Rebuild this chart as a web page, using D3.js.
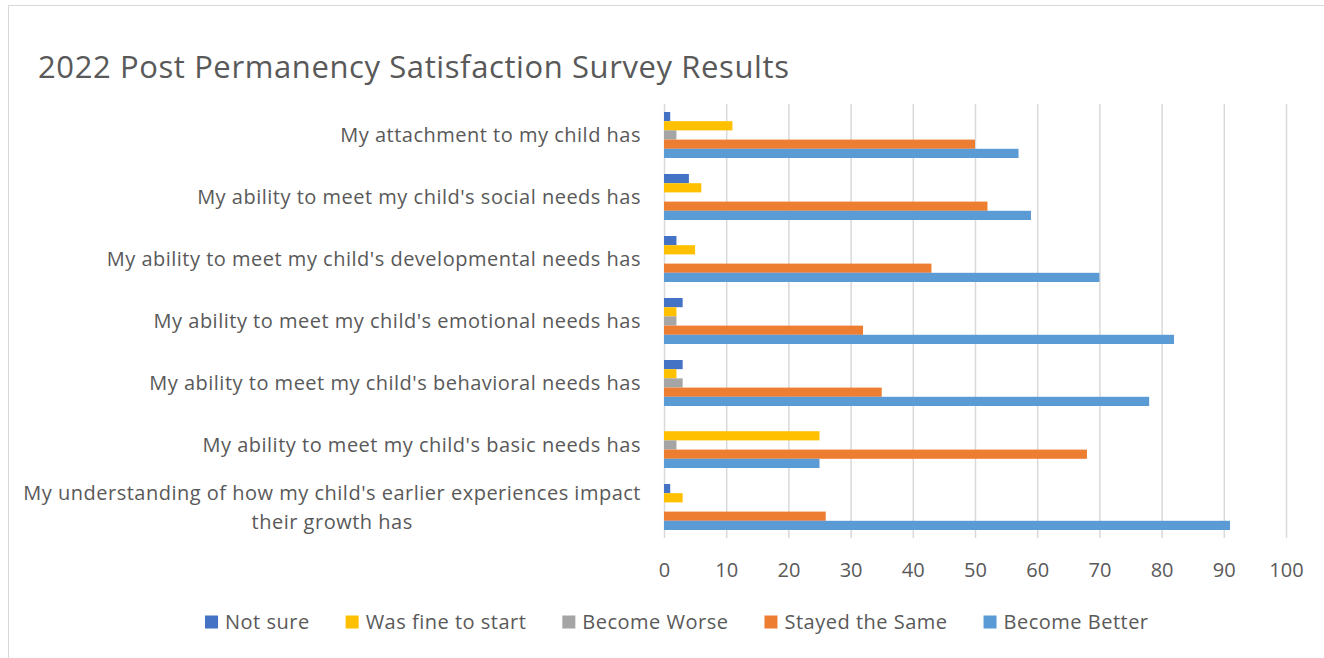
<!DOCTYPE html>
<html>
<head>
<meta charset="utf-8">
<script src="https://cdn.jsdelivr.net/npm/d3@7"></script>
<style>
  body { margin: 0; background: #fff; }
  svg { display: block; font-family: "Open Sans", sans-serif; }
</style>
</head>
<body>
<div class="chart"></div>
<script>
// categories listed top to bottom as they appear, '|' marks a wrapped line
var categories = [
  "My attachment to my child has",
  "My ability to meet my child's social needs has",
  "My ability to meet my child's developmental needs has",
  "My ability to meet my child's emotional needs has",
  "My ability to meet my child's behavioral needs has",
  "My ability to meet my child's basic needs has",
  "My understanding of how my child's earlier experiences impact|their growth has"
]

var seriesNames = ["Not sure", "Was fine to start", "Become Worse", "Stayed the Same", "Become Better"]
var seriesColors = ["#4472C4", "#FFC000", "#A5A5A5", "#ED7D31", "#5B9BD5"]

var notSure      = [1, 4, 2, 3, 3, 0, 1]
var fineToStart  = [11, 6, 5, 2, 2, 25, 3]
var becomeWorse  = [2, 0, 0, 2, 3, 2, 0]
var stayedSame   = [50, 52, 43, 32, 35, 68, 26]
var becomeBetter = [57, 59, 70, 82, 78, 25, 91]

var xTicks = [0, 10, 20, 30, 40, 50, 60, 70, 80, 90, 100]

var seriesValues = [notSure, fineToStart, becomeWorse, stayedSame, becomeBetter]

var W = 1324, H = 658
var plot = { left: 664, right: 1286, top: 104, bottom: 538 }
var textColor = '#595959'

var svg = d3.select('.chart')
  .append('svg')
    .attr('width', W)
    .attr('height', H)

// chart frame (only top and left edges fall inside the picture)
svg.append('rect')
  .attr('x', 8.5).attr('y', 5.5)
  .attr('width', 1330).attr('height', 670)
  .attr('fill', '#fff')
  .attr('stroke', '#d9d9d9')
  .attr('stroke-width', 1)

svg.append('text')
  .attr('x', 38)
  .attr('y', 78)
  .attr('fill', textColor)
  .style('font-size', '31px')
  .style('letter-spacing', '0.6px')
  .text('2022 Post Permanency Satisfaction Survey Results')

var x = d3.scaleLinear().domain([0, 100]).range([plot.left, plot.right])

var y0 = d3.scaleBand()
  .domain(categories)
  .range([plot.top, plot.bottom])
  .paddingInner(0.258)
  .paddingOuter(0.129)

var y1 = d3.scaleBand()
  .domain(seriesNames)
  .range([0, y0.bandwidth()])

// gridlines + tick labels from the axis
var xAxis = svg.append('g')
  .attr('transform', 'translate(0,' + plot.bottom + ')')
  .call(d3.axisBottom(x).tickValues(xTicks).tickSize(-(plot.bottom - plot.top)).tickFormat(d3.format('d')))

xAxis.select('.domain').remove()
xAxis.selectAll('.tick line')
  .attr('stroke', '#d9d9d9')
  .attr('stroke-width', 1.5)
xAxis.selectAll('.tick text')
  .attr('y', 32)
  .attr('dy', '0.35em')
  .attr('fill', textColor)
  .style('font-size', '20px')
  .style('font-family', '"Open Sans", sans-serif')

// bars
var rows = []
categories.forEach(function(c, ci) {
  seriesNames.forEach(function(s, si) {
    rows.push({ cat: c, series: s, value: seriesValues[si][ci], color: seriesColors[si] })
  })
})

svg.append('g')
  .selectAll('rect')
  .data(rows)
  .enter()
    .append('rect')
    .attr('x', x(0))
    .attr('y', d => y0(d.cat) + y1(d.series))
    .attr('width', d => x(d.value) - x(0))
    .attr('height', y1.bandwidth())
    .attr('fill', d => d.color)

// category labels, wrapped ones centred like Excel does
var labels = svg.append('g')
  .selectAll('text')
  .data(categories)
  .enter()
    .append('text')
    .attr('fill', textColor)
    .style('font-size', '20px')
    .style('letter-spacing', '0.5px')

labels.each(function(c) {
  var t = d3.select(this)
  var lines = c.split('|')
  var cy = y0(c) + y0.bandwidth() / 2
  var lh = 29
  lines.forEach(function(l, i) {
    t.append('tspan')
      .attr('y', cy + (i - (lines.length - 1) / 2) * lh)
      .attr('dy', '0.35em')
      .text(l)
  })
  var widest = d3.max(t.selectAll('tspan').nodes(), n => n.getComputedTextLength())
  var right = 641
  t.attr('text-anchor', 'middle')
  t.selectAll('tspan').attr('x', right - widest / 2)
})

// legend
var legend = svg.append('g').attr('transform', 'translate(0,622)')
var lx = 205
seriesNames.forEach(function(s, i) {
  legend.append('rect')
    .attr('x', lx).attr('y', -6.5)
    .attr('width', 13).attr('height', 13)
    .attr('fill', seriesColors[i])
  var t = legend.append('text')
    .attr('x', lx + 20)
    .attr('dy', '0.35em')
    .attr('fill', textColor)
    .style('font-size', '20px')
    .style('letter-spacing', '0.5px')
    .text(s)
  lx += 20 + t.node().getComputedTextLength() + 36
})
</script>
</body>
</html>
